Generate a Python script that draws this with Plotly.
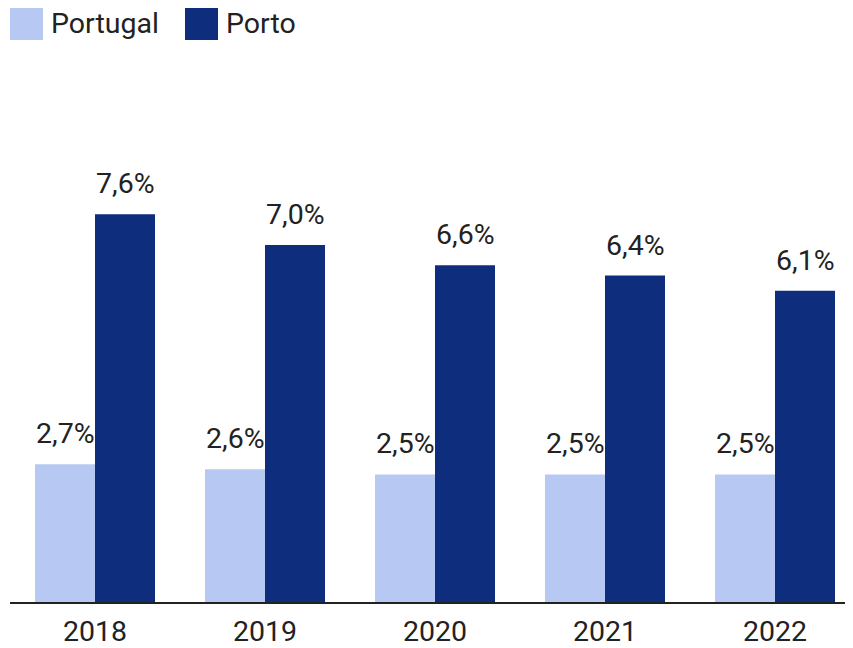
import plotly.graph_objects as go

# data
years = ["2018", "2019", "2020", "2021", "2022"]
portugal = [2.7, 2.6, 2.5, 2.5, 2.5]
porto = [7.6, 7.0, 6.6, 6.4, 6.1]

series_names = ["Portugal", "Porto"]
colors = ["#b7c9f3", "#0f2d7d"]

# page has an 8px body margin, so the figure is a bit smaller than the window
OFF = 8
W, H = 853 - OFF, 648 - OFF
ml, mr, mt, mb = 2, 0, 52, 44
plot_w = W - ml - mr
plot_h = H - mt - mb
FS = 28.5

def pct(v):
    return f"{v:.1f}".replace(".", ",") + "%"

fig = go.Figure()
for name, vals, col in zip(series_names, [portugal, porto], colors):
    fig.add_trace(go.Bar(
        x=years, y=vals, name=name,
        marker=dict(color=col, line=dict(width=0)),
        showlegend=False,
    ))

# value labels, lifted a bit above the bars (x = category index)
for vals, shift in zip([portugal, porto], [-30, 30]):
    for i, v in enumerate(vals):
        fig.add_annotation(x=i, y=v, text=pct(v), showarrow=False,
                           xshift=shift, yshift=12, yanchor="bottom",
                           font=dict(size=FS, color="#222222"))

# hand drawn legend with big square swatches (page pixel positions)
px_x = lambda p: (p - OFF - ml) / plot_w
px_y = lambda p: (H - mb - (p - OFF)) / plot_h
legend_x = [10, 185]
for name, col, x0 in zip(series_names, colors, legend_x):
    fig.add_shape(type="rect", xref="paper", yref="paper",
                  x0=px_x(x0), x1=px_x(x0 + 33), y0=px_y(40), y1=px_y(7),
                  fillcolor=col, line=dict(width=0))
    fig.add_annotation(xref="paper", yref="paper", x=px_x(x0 + 39), y=px_y(23),
                       text=name, showarrow=False, xanchor="left", yanchor="middle",
                       font=dict(size=FS, color="#222222"))

fig.update_layout(
    width=W, height=H,
    margin=dict(l=ml, r=mr, t=mt, b=mb),
    barmode="group", bargap=0.294, bargroupgap=0,
    plot_bgcolor="white", paper_bgcolor="white",
    font=dict(family="Roboto", size=FS, color="#222222"),
    xaxis=dict(type="category", range=[-0.5, -0.5 + plot_w / 170], showline=True,
               linecolor="#222222", linewidth=2, ticks="", ticklabelstandoff=3,
               tickfont=dict(size=FS, color="#222222"), showgrid=False),
    yaxis=dict(range=[0, plot_h / 51.2], visible=False, showgrid=False),
)

fig.write_html("out.html")
